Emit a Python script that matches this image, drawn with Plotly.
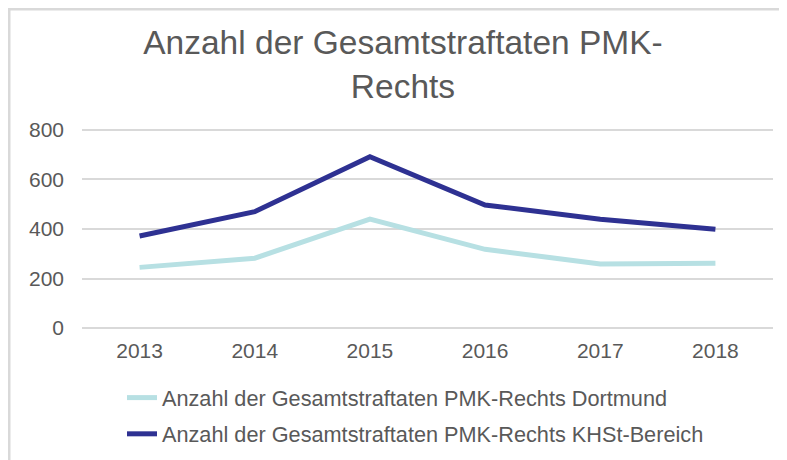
import plotly.graph_objects as go

years = ["2013", "2014", "2015", "2016", "2017", "2018"]
dortmund = [245, 282, 440, 318, 259, 262]
khst = [372, 470, 692, 497, 439, 399]
name_dortmund = "Anzahl der Gesamtstraftaten PMK-Rechts Dortmund"
name_khst = "Anzahl der Gesamtstraftaten PMK-Rechts KHSt-Bereich"
y_ticks = [0, 200, 400, 600, 800]

# page body adds an 8px offset; figure sized to fill the rest of the window
OFF = 8
W, H = 787 - OFF, 460 - OFF
# plot area in screenshot coordinates: x 82..773, y 128..330
L = 82 - OFF
T = 128 - OFF
R = W - (773 - OFF)
B = H - (330 - OFF)
pw, ph = W - L - R, H - T - B

def px_x(x):
    return (x - OFF - L) / pw

def px_y(y):
    return (H - B - (y - OFF)) / ph

TXT = "#595959"
FONT = "Liberation Sans, Arial, sans-serif"

fig = go.Figure()
fig.add_trace(go.Scatter(x=years, y=dortmund, mode="lines", name=name_dortmund,
                         legendgroup="a",
                         line=dict(color="#B7E0E3", width=5)))
fig.add_trace(go.Scatter(x=years, y=khst, mode="lines", name=name_khst,
                         legendgroup="b",
                         line=dict(color="#2E3192", width=5)))

fig.update_layout(
    width=W, height=H,
    margin=dict(l=L, r=R, t=T, b=B, autoexpand=False),
    paper_bgcolor="white", plot_bgcolor="white",
    font=dict(family=FONT, color=TXT, size=21),
    title=dict(text="Anzahl der Gesamtstraftaten PMK-<br>Rechts",
               x=(403 - OFF) / W, xanchor="center", xref="container",
               y=1 - 46 / H, yanchor="top",
               font=dict(family=FONT, size=33.5, color=TXT)),
    xaxis=dict(type="category", range=[-0.5, 5.5], showgrid=False, zeroline=False,
               showline=False, ticks="", tickfont=dict(size=21, color=TXT),
               ticklabelstandoff=6),
    yaxis=dict(range=[-8, 808], tickvals=y_ticks, showgrid=True, gridcolor="#D9D9D9",
               gridwidth=2, zeroline=False, showline=False, ticks="",
               tickfont=dict(size=21, color=TXT), ticklabelstandoff=17),
    legend=dict(orientation="v", x=px_x(122), xanchor="left", y=px_y(377), yanchor="top",
                font=dict(size=21.7, color=TXT), bgcolor="rgba(0,0,0,0)",
                tracegroupgap=5),
    showlegend=True,
    shapes=[dict(type="rect", xref="paper", yref="paper",
                 x0=px_x(9.25), x1=px_x(830), y0=px_y(500), y1=px_y(9.25),
                 line=dict(color="#D9D9D9", width=2.5), layer="below")],
)

fig.write_html("out.html")
